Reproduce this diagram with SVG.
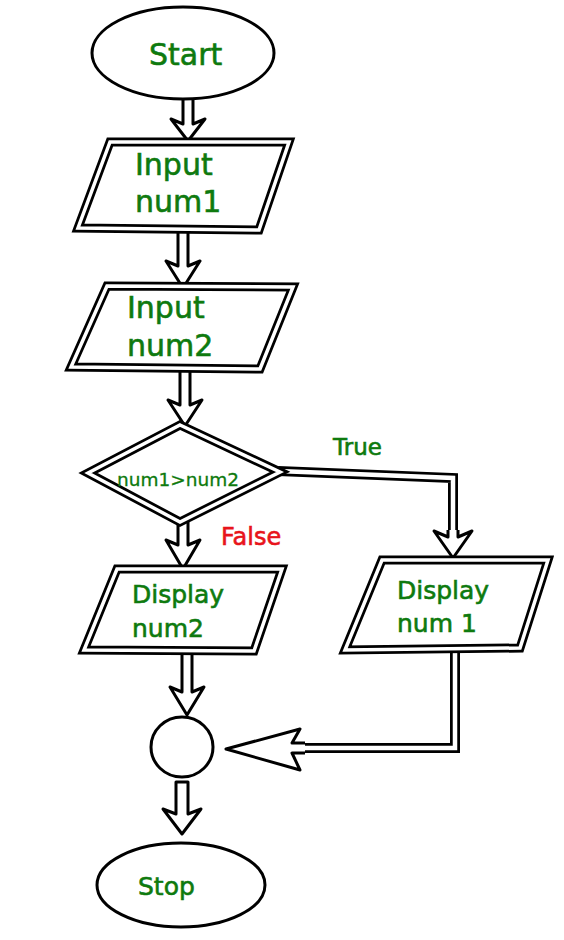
<svg xmlns="http://www.w3.org/2000/svg" width="564" height="940" viewBox="0 0 564 940">
<style>
.bg{fill:#fff}
.oval{fill:#fff;stroke:#000;stroke-width:3}
.dblO{fill:#fff;stroke:#000;stroke-width:9;stroke-linejoin:miter}
.dblI{fill:none;stroke:#fff;stroke-width:3.5;stroke-linejoin:miter}
.lineO{fill:none;stroke:#000;stroke-width:10;stroke-linejoin:miter}
.lineI{fill:none;stroke:#fff;stroke-width:4.5;stroke-linejoin:miter}
.arr{fill:#fff;stroke:#000;stroke-width:3;stroke-linejoin:round}
.t{font-family:"DejaVu Sans",sans-serif;fill:#0e7a0e;stroke:#0e7a0e;stroke-width:0.6}
.red{font-family:"DejaVu Sans",sans-serif;fill:#e8141b;stroke:#e8141b;stroke-width:0.6}
</style>
<rect class="bg" width="564" height="940"/>
<g id="connectors">
  <path class="arr" d="M183,96 L183,124 L171,119 L188,141 L205,119 L193,124 L193,96 Z"/>
  <path class="arr" d="M178,226 L178,266 L166,261 L183,288 L200,261 L188,266 L188,226 Z"/>
  <path class="arr" d="M180,365 L180,405 L168,400 L185,426 L202,400 L190,405 L190,365 Z"/>
  <path class="arr" d="M178,518 L178,545 L166,540 L183,569 L200,540 L188,545 L188,518 Z"/>
  <path class="arr" d="M182,648 L182,692 L170,687 L187,715 L204,687 L192,692 L192,648 Z"/>
  <path class="arr" d="M176,782 L176,814 L163,809 L182,834 L201,809 L188,814 L188,782 Z"/>
  <path class="lineO" d="M278,471 L453,478 L453,536"/>
  <path class="lineI" d="M278,471 L453,478 L453,538"/>
  <path class="arr" d="M448,530 L448,537 L434,531 L453,558 L472,531 L458,537 L458,530"/>
  <path class="lineO" d="M455,648 L455,748 L302,748"/>
  <path class="lineI" d="M455,648 L455,748 L300,748"/>
  <path class="arr" d="M305,743 L292,743 L300,729 L226,749 L300,770 L292,753 L305,753"/>
</g>
<g id="start">
  <ellipse class="oval" cx="183" cy="53" rx="91" ry="46"/>
  <text class="t" x="149" y="65" font-size="30">Start</text>
</g>
<g id="input1">
  <path class="dblO" d="M110,142 L289,142 L259,230 L78,228 Z"/>
  <path class="dblI" d="M110,142 L289,142 L259,230 L78,228 Z"/>
  <text class="t" x="135" y="175" font-size="30">Input</text>
  <text class="t" x="135" y="212" font-size="30">num1</text>
</g>
<g id="input2">
  <path class="dblO" d="M107,286 L293,287 L260,369 L71,367 Z"/>
  <path class="dblI" d="M107,286 L293,287 L260,369 L71,367 Z"/>
  <text class="t" x="127" y="318" font-size="30">Input</text>
  <text class="t" x="127" y="356" font-size="30">num2</text>
</g>
<g id="decision">
  <path class="dblO" d="M180,425 L280,472 L180,522 L88,473 Z"/>
  <path class="dblI" d="M180,425 L280,472 L180,522 L88,473 Z"/>
  <text class="t" x="117" y="486" font-size="18.5" style="stroke-width:0.3">num1&gt;num2</text>
</g>
<text class="t" x="333" y="455" font-size="23">True</text>
<text class="red" x="221" y="545" font-size="24">False</text>
<g id="display2">
  <path class="dblO" d="M117,569 L282,569 L254,651 L84,650 Z"/>
  <path class="dblI" d="M117,569 L282,569 L254,651 L84,650 Z"/>
  <text class="t" x="132" y="603" font-size="25">Display</text>
  <text class="t" x="132" y="637" font-size="25">num2</text>
</g>
<g id="display1">
  <path class="dblO" d="M382,560 L548,560 L520,648 L345,650 Z"/>
  <path class="dblI" d="M382,560 L548,560 L520,648 L345,650 Z"/>
  <text class="t" x="397" y="599" font-size="25">Display</text>
  <text class="t" x="397" y="632" font-size="25">num 1</text>
</g>
<g id="connector-circle">
  <ellipse class="oval" cx="182" cy="747" rx="31" ry="30"/>
</g>
<g id="stop">
  <ellipse class="oval" cx="181" cy="885" rx="84" ry="42"/>
  <text class="t" x="138" y="895" font-size="25">Stop</text>
</g>
</svg>
